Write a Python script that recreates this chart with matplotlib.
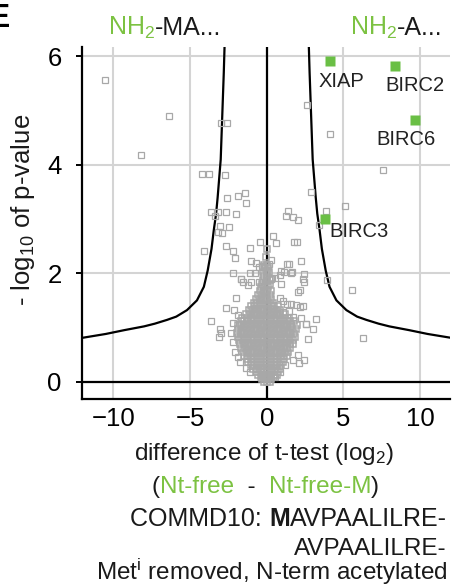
import matplotlib
matplotlib.use("Agg")
import matplotlib.pyplot as plt
import numpy as np

plt.rcParams['font.family'] = ['Liberation Sans', 'DejaVu Sans']
plt.rcParams['mathtext.fontset'] = 'custom'
plt.rcParams['mathtext.rm'] = 'Liberation Sans'
plt.rcParams['mathtext.it'] = 'Liberation Sans:italic'
plt.rcParams['mathtext.bf'] = 'Liberation Sans:bold'

GREEN = '#6abf45'
GREEN_TXT = '#7cc242'
GRAY = '#a8a8a8'

# highlighted proteins
hit_names = ['XIAP', 'BIRC2', 'BIRC6', 'BIRC3']
hit_x = [4.1, 8.4, 9.7, 3.8]
hit_y = [5.91, 5.83, 4.83, 3.01]
# label offsets (pixels, left edge / baseline relative to the marker)
hit_offsets = [(-11, -26), (-10, -25), (-39, -25), (4, -18)]

# scattered proteins outside the dense core
out_x = [-10.55, -6.35, -8.17, -2.96, -2.61, 2.65, 4.1, 7.6, 2.9, 5.09, 3.89, 3.39,
         -4.22, -3.76, -2.7, -2.61, -1.87, -1.42, -1.33, -3.61, -3.18, -2.67, -2.02,
         -3.39, -3.02, -2.46, -3.18, -2.93, -4.07, -2.67, -2.17, -2.09, -1.11, -0.46,
         -1.04, -0.67, -0.5, -0.33, -0.2, -2.2, -1.7, -1.06, -0.78,
         0.41, 0.59, 1.39, 1.28, 1.72, 2.04, 1.76, 1.98, 0.31, 0.13, 1.46, 2.26, 1.13,
         0.96, 0.85, 1.67, 2.41, 0.35, 0.52, 1.32, 1.61, 2.43, 2.04, 2.37, 3.24, 3.02,
         2.54, 2.04, 2.41, 5.57, 6.26, 2.69, 3.95,
         -3.61, -3.07, -3.11, -3.0, -2.63, -2.15, -1.87, -2.02, -1.7, -1.55, -1.0,
         -1.22, -0.5, -2.2, -2.3, -2.2, -2.09, -1.87, -1.76, -1.33, -1.11,
         0.31, 0.96, 2.37, 2.15, 0.85, 1.06, 1.32, 1.61, 1.94, 2.15, 1.06, 1.46, 1.72,
         2.26, 2.59, 2.11, 1.72, 1.17, 0.85, 0.52]
out_y = [5.57, 4.91, 4.19, 4.77, 4.77, 5.11, 4.57, 3.9, 3.49, 3.25, 3.14, 2.89,
         3.84, 3.84, 3.81, 3.38, 3.42, 3.48, 3.30, 3.13, 3.13, 3.13, 3.10,
         3.05, 2.88, 2.85, 2.76, 2.75, 2.41, 2.5, 2.41, 2.29, 2.46, 2.58,
         2.22, 2.19, 2.11, 2.13, 2.11, 2.0, 1.9, 2.0, 2.0,
         2.68, 2.56, 3.15, 3.05, 3.04, 2.99, 2.58, 2.58, 2.24, 2.18, 2.17, 2.22, 2.03,
         2.04, 1.96, 2.03, 1.98, 1.92, 1.92, 2.17, 2.01, 1.84, 1.66, 1.4, 1.15, 0.97,
         1.06, 0.49, 0.4, 1.70, 0.80, 0.78, 1.88,
         1.12, 0.97, 0.83, 0.89, 1.35, 1.33, 1.23, 1.54, 1.89, 1.83, 1.84,
         1.78, 1.84, 1.08, 0.89, 0.74, 0.54, 0.46, 0.36, 0.25, 0.18,
         1.9, 1.81, 1.9, 1.69, 1.55, 1.49, 1.44, 1.44, 1.41, 1.38, 1.29, 1.30, 1.2,
         1.18, 1.06, 0.34, 0.4, 0.31, 0.18, 0.09]

# dense core near the origin, read row by row (y level, x positions)
core_rows = [
    (0.00, [-0.2, 0.0, 0.2]),
    (0.04, [-0.3, -0.1, 0.1, 0.3]),
    (0.08, [-0.4, -0.15, 0.05, 0.25, 0.45]),
    (0.12, [-0.55, -0.3, -0.05, 0.2, 0.45, 0.65]),
    (0.18, [-0.7, -0.45, -0.2, 0.05, 0.3, 0.55, 0.75]),
    (0.24, [-0.9, -0.65, -0.4, -0.15, 0.1, 0.35, 0.6, 0.85]),
    (0.30, [-1.05, -0.8, -0.55, -0.3, -0.05, 0.2, 0.45, 0.7, 0.95]),
    (0.36, [-1.2, -0.95, -0.7, -0.45, -0.2, 0.05, 0.3, 0.55, 0.8, 1.05]),
    (0.42, [-1.3, -1.05, -0.8, -0.55, -0.3, -0.05, 0.2, 0.45, 0.7, 0.95, 1.15]),
    (0.48, [-1.45, -1.2, -0.95, -0.7, -0.45, -0.2, 0.05, 0.3, 0.55, 0.8, 1.05, 1.3]),
    (0.55, [-1.55, -1.3, -1.05, -0.8, -0.55, -0.3, -0.05, 0.2, 0.45, 0.7, 0.95, 1.2, 1.4]),
    (0.62, [-1.65, -1.4, -1.15, -0.9, -0.65, -0.4, -0.15, 0.1, 0.35, 0.6, 0.85, 1.1, 1.35, 1.55]),
    (0.69, [-1.75, -1.5, -1.25, -1.0, -0.75, -0.5, -0.25, 0.0, 0.25, 0.5, 0.75, 1.0, 1.25, 1.5, 1.7]),
    (0.76, [-1.8, -1.55, -1.3, -1.05, -0.8, -0.55, -0.3, -0.05, 0.2, 0.45, 0.7, 0.95, 1.2, 1.45, 1.7]),
    (0.83, [-1.9, -1.65, -1.4, -1.15, -0.9, -0.65, -0.4, -0.15, 0.1, 0.35, 0.6, 0.85, 1.1, 1.35, 1.6, 1.85]),
    (0.90, [-1.95, -1.7, -1.45, -1.2, -0.95, -0.7, -0.45, -0.2, 0.05, 0.3, 0.55, 0.8, 1.05, 1.3, 1.55, 1.8]),
    (0.97, [-1.85, -1.6, -1.35, -1.1, -0.85, -0.6, -0.35, -0.1, 0.15, 0.4, 0.65, 0.9, 1.15, 1.4, 1.65, 1.9]),
    (1.04, [-1.9, -1.65, -1.4, -1.15, -0.9, -0.65, -0.4, -0.15, 0.1, 0.35, 0.6, 0.85, 1.1, 1.35, 1.6, 2.0]),
    (1.11, [-1.7, -1.45, -1.2, -0.95, -0.7, -0.45, -0.2, 0.05, 0.3, 0.55, 0.8, 1.05, 1.3, 1.55, 1.8]),
    (1.18, [-1.6, -1.3, -1.05, -0.8, -0.55, -0.3, -0.05, 0.2, 0.45, 0.7, 0.95, 1.2, 1.45]),
    (1.25, [-1.35, -1.1, -0.85, -0.6, -0.35, -0.1, 0.15, 0.4, 0.65, 0.9, 1.2]),
    (1.32, [-1.15, -0.9, -0.65, -0.4, -0.15, 0.1, 0.35, 0.6, 0.9]),
    (1.39, [-1.0, -0.75, -0.5, -0.25, 0.0, 0.25, 0.5, 0.75]),
    (1.46, [-0.85, -0.6, -0.35, -0.1, 0.15, 0.4]),
    (1.53, [-0.7, -0.45, -0.2, 0.05, 0.3]),
    (1.60, [-0.55, -0.3, -0.05, 0.2]),
    (1.67, [-0.45, -0.2, 0.05, 0.25]),
    (1.74, [-0.4, -0.15, 0.1]),
    (1.81, [-0.3, -0.05, 0.2]),
    (1.88, [-0.25, 0.0, 0.2]),
    (1.95, [-0.2, 0.05]),
    (2.02, [-0.25, 0.0, 0.15]),
    (2.09, [-0.1, 0.1]),
    (2.16, [-0.15, 0.05]),
    (2.30, [-0.05]),
    (2.45, [0.05]),
]

# significance curve, right branch (the left one is its mirror)
curve_x = [2.75, 2.8, 2.85, 2.9, 2.95, 3.0, 3.1, 3.2, 3.3, 3.45, 3.6, 3.85, 4.1,
           4.55, 5.2, 5.9, 6.5, 7.3, 8.0, 9.3, 10.5, 12.0]
curve_y = [6.18, 5.7, 5.3, 4.9, 4.5, 4.1, 3.75, 3.4, 3.1, 2.8, 2.45, 2.05, 1.75,
           1.5, 1.32, 1.2, 1.14, 1.07, 1.02, 0.95, 0.88, 0.81]

xticks = [-10, -5, 0, 5, 10]
yticks = [0, 2, 4, 6]

core_x = [x for y, xs in core_rows for x in xs]
core_y = [y for y, xs in core_rows for x in xs]

W, H = 467, 588
fig = plt.figure(figsize=(W / 100, H / 100), dpi=100)
ax = fig.add_axes([81.7 / W, 1 - 399 / H, (450 - 81.7) / W, (399 - 46.7) / H])
ax.set_xlim(-12.07, 11.96)
ax.set_ylim(-0.32, 6.18)

ax.set_xticks(xticks)
ax.set_yticks(yticks)
ax.grid(color='#d4d4d4', lw=1.5, zorder=0)
ax.set_axisbelow(True)
for s in ['top', 'right']:
    ax.spines[s].set_visible(False)
for s in ['left', 'bottom']:
    ax.spines[s].set_linewidth(1.6)
ax.tick_params(axis='y', direction='out', length=4.5, width=1.4, pad=10, labelsize=18.5)
ax.tick_params(axis='x', length=0, pad=6, labelsize=18.5)
for i, t in enumerate(ax.yaxis.get_major_ticks()):
    if yticks[i] in (2, 4):
        t.tick1line.set_color('#c8c8c8')

ax.axvline(0, color='black', lw=1.6, zorder=2)
ax.axhline(0, color='black', lw=1.6, zorder=2)

cx = np.array(curve_x)
cy = np.array(curve_y)
ax.plot(cx, cy, color='black', lw=1.6, zorder=3)
ax.plot(-cx, cy, color='black', lw=1.6, zorder=3)

ax.plot(core_x, core_y, ls='none', marker='s', ms=4.4,
        mfc='none', mec=GRAY, mew=1.1, zorder=4)
ax.plot(out_x, out_y, ls='none', marker='s', ms=3.9,
        mfc='none', mec=GRAY, mew=0.9, zorder=4)
ax.plot(hit_x, hit_y, ls='none', marker='s', ms=7, mfc=GREEN, mec='none', zorder=5)
for name, x, y, off in zip(hit_names, hit_x, hit_y, hit_offsets):
    ax.annotate(name, (x, y), xytext=off, textcoords='offset pixels',
                fontsize=14.5, color='#222222', ha='left', va='baseline', zorder=6)


def pieces_text(x, y, pieces, size, ha='center'):
    """Put differently styled pieces of text next to each other on one baseline."""
    r = fig.canvas.get_renderer()
    arts = []
    for s, color, weight in pieces:
        t = fig.text(0, y, s, color=color, fontsize=size, fontweight=weight, va='baseline')
        arts.append((t, t.get_window_extent(r).width))
    total = sum(w for _, w in arts)
    left = x * W - (total / 2 if ha == 'center' else (total if ha == 'right' else 0))
    for t, w in arts:
        t.set_x(left / W)
        left += w


K = '#1a1a1a'
pieces_text(164.5 / W, 1 - 35 / H, [('NH$_\\mathrm{2}$', GREEN_TXT, 'normal'),
                                   ('-MA...', K, 'normal')], 18)
pieces_text(396 / W, 1 - 35 / H, [('NH$_\\mathrm{2}$', GREEN_TXT, 'normal'),
                                 ('-A...', K, 'normal')], 18)

pieces_text(264 / W, 1 - 460 / H, [('difference of t-test (log$_\\mathrm{2}$)', K, 'normal')], 17.5)
pieces_text(265.5 / W, 1 - 493 / H, [('(', K, 'normal'), ('Nt-free', GREEN_TXT, 'normal'),
                                     ('  -  ', K, 'normal'), ('Nt-free-M', GREEN_TXT, 'normal'),
                                     (')', K, 'normal')], 17.5)
pieces_text(447 / W, 1 - 526 / H, [('COMMD10: ', K, 'normal'), ('M', K, 'bold'),
                                   ('AVPAALILRE-', K, 'normal')], 18, ha='right')
pieces_text(447 / W, 1 - 555 / H, [('AVPAALILRE-', K, 'normal')], 17.5, ha='right')
pieces_text(272 / W, 1 - 580 / H, [('Met$^\\mathrm{i}$ removed, N-term acetylated', K, 'normal')], 17.5)

fig.text(23 / W, 1 - 210 / H, '- log$_\\mathrm{10}$ of p-value', rotation=90,
         ha='center', va='center', fontsize=18.5, color=K)
fig.text(10 / W, 1 - 27 / H, 'E', fontsize=24, fontweight='bold', ha='right',
         va='baseline', color='black')

fig.savefig('out.png', dpi=100)
